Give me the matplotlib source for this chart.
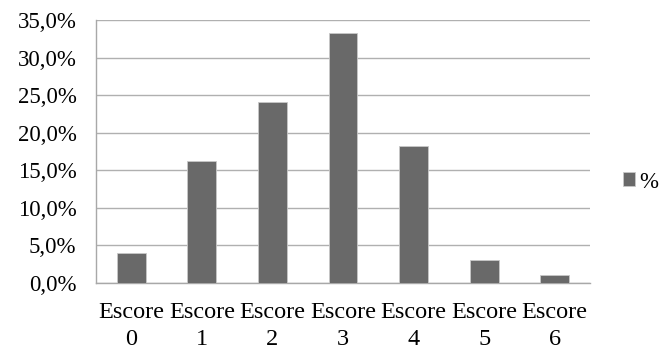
import matplotlib
matplotlib.use("Agg")
import matplotlib.pyplot as plt
from matplotlib.ticker import FuncFormatter

categories = ["Escore\n0", "Escore\n1", "Escore\n2", "Escore\n3", "Escore\n4", "Escore\n5", "Escore\n6"]
values = [4.0, 16.2, 24.1, 33.3, 18.2, 3.0, 1.0]
series_name = "%"

plt.rcParams['font.family'] = ['Liberation Serif', 'DejaVu Serif']

FSY = 16.5
FSX = 17.5

fig = plt.figure(figsize=(6.67, 3.5), dpi=100)
ax = fig.add_axes([96/667, 1-283/350, (590-96)/667, (283-20)/350])

x = range(len(categories))
ax.bar(x, values, width=0.41, color='#696969', edgecolor='#c8c8c8', linewidth=0.6,
       label=series_name, zorder=3)

ax.set_xlim(-0.5, len(categories) - 0.5)
ax.set_ylim(0, 35)
ax.set_yticks([0, 5, 10, 15, 20, 25, 30, 35])
ax.yaxis.set_major_formatter(FuncFormatter(lambda v, p: f"{v:.1f}".replace('.', ',') + "%"))
ax.set_xticks(list(x))
ax.set_xticklabels(categories, linespacing=1.35)
ax.yaxis.grid(True, color='#b0b0b0', linewidth=1.0, zorder=0)
ax.tick_params(axis='both', length=0, colors='black')
ax.tick_params(axis='x', pad=14, labelsize=FSX)
ax.tick_params(axis='y', pad=14, labelsize=FSY)

for s in ['top', 'right']:
    ax.spines[s].set_visible(False)
for s in ['left', 'bottom']:
    ax.spines[s].set_color('#a8a8a8')
    ax.spines[s].set_linewidth(1.0)

leg = fig.legend(loc='center left', bbox_to_anchor=(623/667, 1-182/350), frameon=False,
                 fontsize=FSY, handlelength=0.52, handleheight=0.55, handletextpad=0.2,
                 borderpad=0, borderaxespad=0)

fig.savefig("out.png", dpi=100)
